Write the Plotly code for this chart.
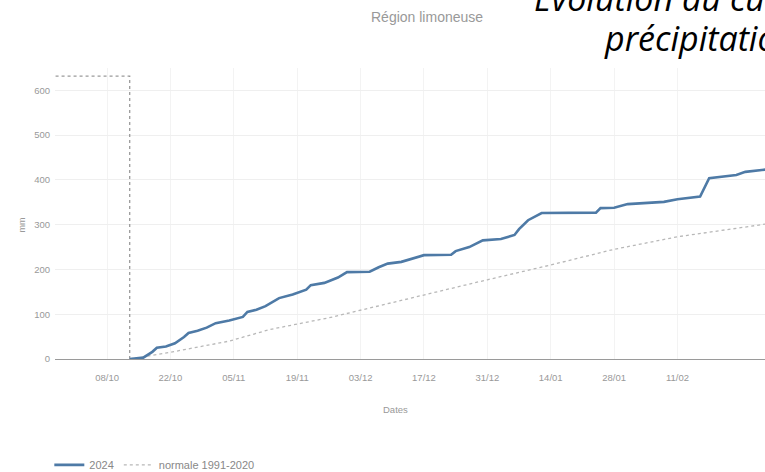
import plotly.graph_objects as go

# 2024 cumulative precipitation (mm)
dates_2024 = ["2024-10-13", "2024-10-15", "2024-10-16", "2024-10-18", "2024-10-19", "2024-10-21",
              "2024-10-23", "2024-10-25", "2024-10-26", "2024-10-28", "2024-10-30", "2024-11-01",
              "2024-11-04", "2024-11-07", "2024-11-08", "2024-11-10", "2024-11-12", "2024-11-15",
              "2024-11-18", "2024-11-21", "2024-11-22", "2024-11-25", "2024-11-28", "2024-11-30",
              "2024-12-05", "2024-12-07", "2024-12-09", "2024-12-12", "2024-12-15", "2024-12-17",
              "2024-12-23", "2024-12-24", "2024-12-27", "2024-12-30", "2025-01-03", "2025-01-06",
              "2025-01-07", "2025-01-09", "2025-01-12", "2025-01-24", "2025-01-25", "2025-01-28",
              "2025-01-31", "2025-02-08", "2025-02-11", "2025-02-15", "2025-02-16", "2025-02-18",
              "2025-02-21", "2025-02-24", "2025-02-26", "2025-03-04"]
values_2024 = [0, 1, 3, 16, 25, 28,
               35, 49, 58, 63, 70, 80,
               86, 94, 105, 110, 118, 136,
               144, 155, 165, 170, 182, 194,
               195, 205, 213, 217, 225, 232,
               233, 241, 250, 265, 268, 277,
               290, 310, 326, 327, 337, 338,
               346, 351, 357, 361, 363, 404,
               408, 411, 418, 425]

# Normal 1991-2020 cumulative precipitation (mm)
dates_norm = ["2024-10-13", "2024-10-22", "2024-11-04", "2024-11-13", "2024-11-26", "2024-12-05",
              "2024-12-18", "2024-12-31", "2025-01-14", "2025-01-28", "2025-02-11", "2025-03-02",
              "2025-03-05"]
values_norm = [0, 15, 40, 66, 92, 114,
               145, 177, 210, 245, 273, 300,
               305]

# Start-of-season marker
marker_dates = ["2024-09-20", "2024-10-13", "2024-10-13"]
marker_values = [632, 632, 0]

# Axis ticks
tick_dates = ["2024-10-08", "2024-10-22", "2024-11-05", "2024-11-19", "2024-12-03",
              "2024-12-17", "2024-12-31", "2025-01-14", "2025-01-28", "2025-02-11"]
tick_labels = ["08/10", "22/10", "05/11", "19/11", "03/12", "17/12", "31/12", "14/01", "28/01", "11/02"]

# Title lines
title_lines = ["Évolution du cumul des", "précipitations"]

x_range = ["2024-09-26 12:00", "2025-03-02 08:00"]
y_range = [0, 650]

fig = go.Figure()
fig.add_trace(go.Scatter(x=marker_dates, y=marker_values, mode="lines",
                         line=dict(color="#9a9a9a", width=1.3, dash="dot"),
                         showlegend=False, hoverinfo="skip"))
fig.add_trace(go.Scatter(x=dates_norm, y=values_norm, mode="lines", name="normale 1991-2020",
                         line=dict(color="#b8b8b8", width=1.3, dash="dot")))
fig.add_trace(go.Scatter(x=dates_2024, y=values_2024, mode="lines", name="2024",
                         line=dict(color="#4e7aa6", width=2.6)))

font_fam = "Liberation Sans, Arial, sans-serif"
fig.update_layout(
    width=765, height=472,
    margin=dict(l=55, r=0, t=68, b=113, autoexpand=False),
    paper_bgcolor="white", plot_bgcolor="white",
    font=dict(family=font_fam, size=9, color="#999"),
    showlegend=True,
    legend=dict(orientation="h", traceorder="reversed", x=-0.008, y=-0.364, xanchor="left",
                yanchor="middle", font=dict(size=11, color="#888")),
    xaxis=dict(range=x_range, type="date", tickvals=tick_dates, ticktext=tick_labels,
               showgrid=True, gridcolor="#f3f3f3", gridwidth=1, automargin=False,
               zeroline=False, showline=False, ticks="", ticklabelstandoff=11,
               tickfont=dict(size=9.5, color="#999")),
    yaxis=dict(range=y_range, dtick=100, showgrid=True, gridcolor="#efefef", automargin=False,
               zeroline=True, zerolinecolor="#9a9a9a", zerolinewidth=1.2,
               showline=False, ticks="", ticklabelstandoff=4,
               tickfont=dict(size=9.5, color="#999")),
)

fig.add_annotation(text="mm", xref="paper", yref="paper", x=-0.046, y=0.46, textangle=-90,
                   showarrow=False, font=dict(size=9, color="#999"), xanchor="center", yanchor="middle")
fig.add_annotation(text="Dates", xref="paper", yref="paper", x=0.479, y=-0.175,
                   showarrow=False, font=dict(size=9.5, color="#999"), yanchor="middle")
fig.add_annotation(text="Région limoneuse", xref="paper", yref="paper", x=0.524, y=1.175,
                   showarrow=False, font=dict(size=14, color="#999"), yanchor="middle")
fig.add_annotation(text="<i>" + title_lines[0] + "</i>", xref="paper", yref="paper",
                   x=0.672, y=1.153, xanchor="left", yanchor="bottom", showarrow=False,
                   font=dict(family="Open Sans", size=34, color="black"))
fig.add_annotation(text="<i>" + title_lines[1] + "</i>", xref="paper", yref="paper",
                   x=0.770, y=1.0186, xanchor="left", yanchor="bottom", showarrow=False,
                   font=dict(family="Open Sans", size=34, color="black"))

fig.write_html("out.html", config={"displayModeBar": False},
               post_script="document.body.style.margin='0';document.body.style.overflow='hidden';")
